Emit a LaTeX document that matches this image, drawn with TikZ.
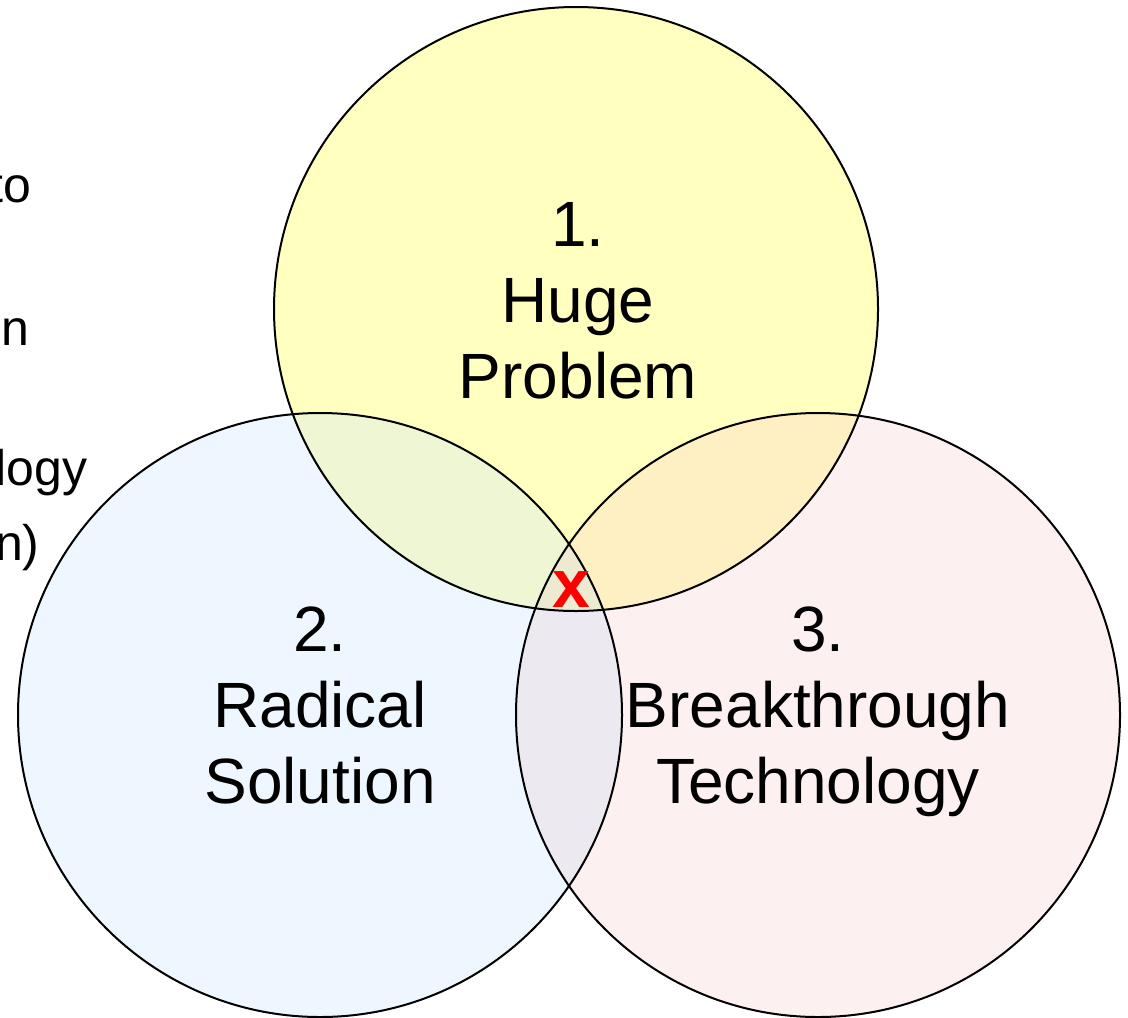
\documentclass[tikz,border=0pt]{standalone}
\usepackage{fontspec}
\setmainfont{Liberation Sans}
\usepackage{tikz}
\usetikzlibrary{positioning}
\definecolor{problemyellow}{HTML}{FFFFC0}
\definecolor{solutionblue}{HTML}{EEF6FF}
\definecolor{techpink}{HTML}{FDF0F0}
\definecolor{ybmix}{HTML}{EEF6D3}
\definecolor{ypmix}{HTML}{FEF0C2}
\definecolor{bpmix}{HTML}{ECEAF0}
\definecolor{allmix}{HTML}{ECEBD2}

\begin{document}
\begin{tikzpicture}[x=0.5pt,y=-0.5pt,
  venn/.style={draw=black,line width=1pt},
  bigtext/.style={align=center,font=\fontsize{32}{38}\selectfont,anchor=base},
  cuttext/.style={anchor=base east,inner sep=0pt,font=\fontsize{25}{30}\selectfont}]
\useasboundingbox (0,0) rectangle (1128,1017);
\clip (0,0) rectangle (1128,1017);
% centres
\coordinate (problem) at (576,309);
\coordinate (solution) at (320,715);
\coordinate (tech) at (818,715);
\def\rad{302}

% fills
\fill[solutionblue] (solution) circle (\rad);
\fill[techpink] (tech) circle (\rad);
\fill[problemyellow] (problem) circle (\rad);
\begin{scope}
  \clip (problem) circle (\rad);
  \fill[ybmix] (solution) circle (\rad);
  \fill[ypmix] (tech) circle (\rad);
\end{scope}
\begin{scope}
  \clip (solution) circle (\rad);
  \fill[bpmix] (tech) circle (\rad);
  \clip (tech) circle (\rad);
  \fill[allmix] (problem) circle (\rad);
\end{scope}

% outlines
\draw[venn] (solution) circle (\rad);
\draw[venn] (tech) circle (\rad);
\draw[venn] (problem) circle (\rad);

% labels (anchored at the last line)
\node[bigtext] (problemtxt) at (578,398) {1.\\Huge\\Problem};
\node[bigtext] (solutiontxt) at (320,803) {2.\\Radical\\Solution};
\node[bigtext] (techtxt) at (818,803) {3.\\Breakthrough\\Technology};

% the sweet spot
\node[anchor=base,text=red,font=\fontsize{34}{40}\bfseries] (spot) at (571,607) {x};

% text cut off at the left edge
\node[cuttext] (cutA) at (32,202) {to};
\node[cuttext] (cutB) at (30,345) {n};
\node[cuttext] (cutC) at (88,485) {logy};
\node[cuttext] (cutD) at (40,560) {n)};
\end{tikzpicture}
\end{document}
